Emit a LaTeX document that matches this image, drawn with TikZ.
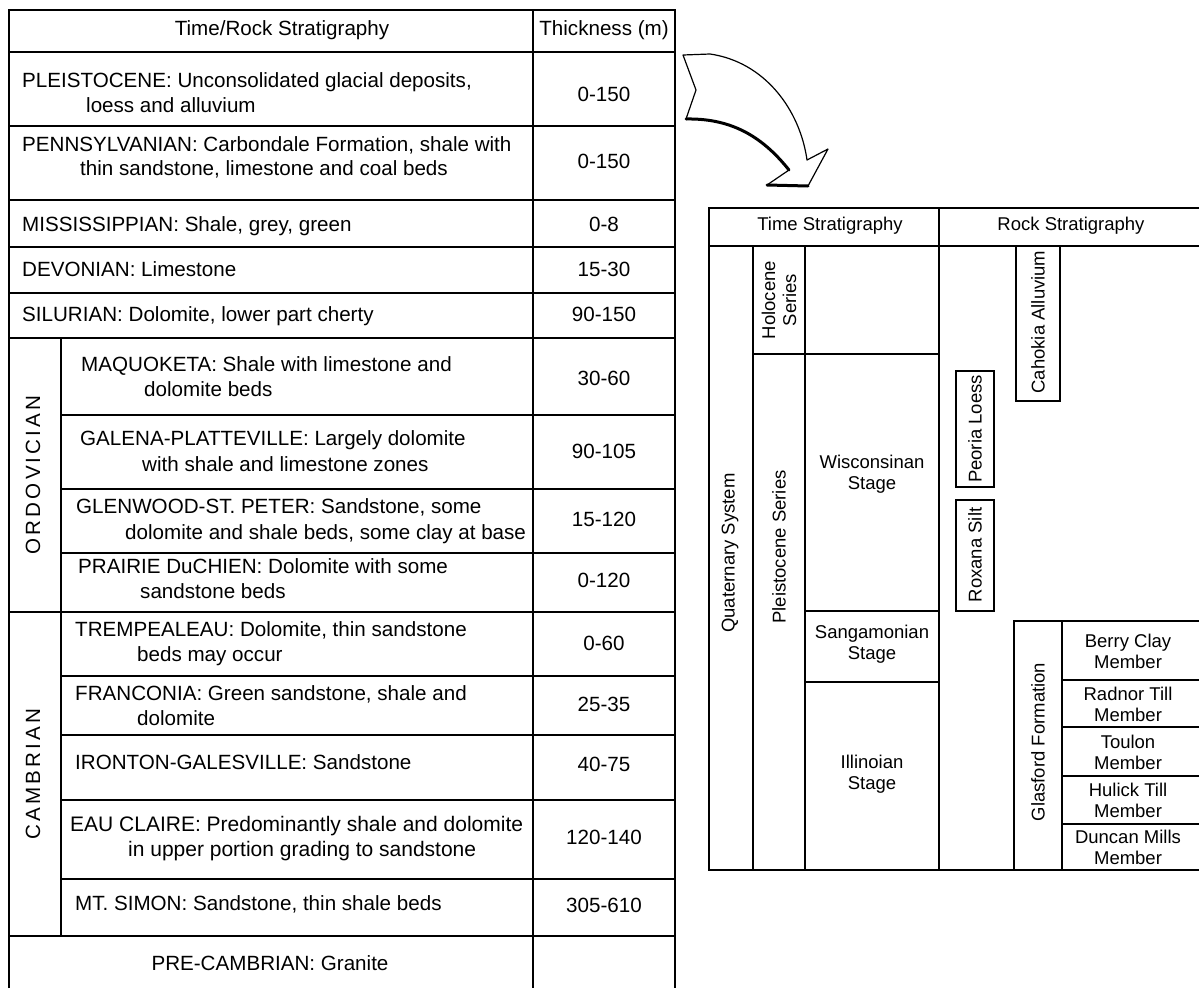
\documentclass[tikz,border=0pt]{standalone}
\usepackage{fontspec}
\setmainfont{Liberation Sans}
\usepackage{tikz}
\newcommand{\lfont}{\fontsize{20.6pt}{25pt}\selectfont}
\newcommand{\rfont}{\fontsize{18.5pt}{21pt}\selectfont}

\begin{document}
\begin{tikzpicture}[x=1pt,y=-1pt,
  rule/.style={line width=1.4pt},
  desc/.style={anchor=west,inner sep=0pt,font=\lfont,text height=14pt,text depth=4pt},
  thk/.style={inner sep=0pt,font=\lfont,text height=14pt,text depth=4pt},
  period/.style={rotate=90,inner sep=0pt,font=\lfont\addfontfeature{LetterSpace=15}},
  cell/.style={align=center,inner sep=0pt,font=\rfont},
  vcell/.style={rotate=90,align=center,inner sep=0pt,font=\rfont}]
\useasboundingbox (0,0) rectangle (1199,988);

% left table
\draw[rule] (9,988) -- (9,10) -- (675,10) -- (675,988);
\draw[rule] (533,10) -- (533,988);
\draw[rule] (61,338) -- (61,936);
\foreach \y in {52,126,200,247,293,338,612,936}
  \draw[rule] (9,\y) -- (675,\y);
\foreach \y in {415,489,553,676,735,800,879}
  \draw[rule] (61,\y) -- (675,\y);

\node[thk] (hdr1) at (282,30) {Time/Rock Stratigraphy};
\node[thk] (hdr2) at (604,30) {Thickness (m)};

\node[desc] (plei1) at (22,82) {PLEISTOCENE: Unconsolidated glacial deposits,};
\node[desc] (plei2) at (86,107) {loess and alluvium};
\node[desc] (penn1) at (22,146) {PENNSYLVANIAN: Carbondale Formation, shale with};
\node[desc] (penn2) at (80,170) {thin sandstone, limestone and coal beds};
\node[desc] (miss) at (22,226) {MISSISSIPPIAN: Shale, grey, green};
\node[desc] (devo) at (22,271) {DEVONIAN: Limestone};
\node[desc] (silu) at (22,316) {SILURIAN: Dolomite, lower part cherty};
\node[desc] (maqu1) at (81,366) {MAQUOKETA: Shale with limestone and};
\node[desc] (maqu2) at (144,391) {dolomite beds};
\node[desc] (gale1) at (80,440) {GALENA-PLATTEVILLE: Largely dolomite};
\node[desc] (gale2) at (142,466) {with shale and limestone zones};
\node[desc] (glen1) at (76,508) {GLENWOOD-ST. PETER: Sandstone, some};
\node[desc] (glen2) at (125,534) {dolomite and shale beds, some clay at base};
\node[desc] (prai1) at (78,568) {PRAIRIE DuCHIEN: Dolomite with some};
\node[desc] (prai2) at (140,593) {sandstone beds};
\node[desc] (trem1) at (75,631) {TREMPEALEAU: Dolomite, thin sandstone};
\node[desc] (trem2) at (137,656) {beds may occur};
\node[desc] (fran1) at (75,695) {FRANCONIA: Green sandstone, shale and};
\node[desc] (fran2) at (137,720) {dolomite};
\node[desc] (iron) at (75,764) {IRONTON-GALESVILLE: Sandstone};
\node[desc,font=\fontsize{21pt}{25pt}\selectfont] (eauc1) at (70,826) {EAU CLAIRE: Predominantly shale and dolomite};
\node[desc,font=\fontsize{21pt}{25pt}\selectfont] (eauc2) at (128,851) {in upper portion grading to sandstone};
\node[desc] (mtsi) at (75,905) {MT. SIMON: Sandstone, thin shale beds};
\node[thk] (prec) at (270,965) {PRE-CAMBRIAN: Granite};

\node[period] (ordo) at (33,475) {ORDOVICIAN};
\node[period] (camb) at (33,774) {CAMBRIAN};

\node[thk] (t1) at (604,96) {0-150};
\node[thk] (t2) at (604,163) {0-150};
\node[thk] (t3) at (604,226) {0-8};
\node[thk] (t4) at (604,271) {15-30};
\node[thk] (t5) at (604,316) {90-150};
\node[thk] (t6) at (604,380) {30-60};
\node[thk] (t7) at (604,453) {90-105};
\node[thk] (t8) at (604,521) {15-120};
\node[thk] (t9) at (604,582) {0-120};
\node[thk] (t10) at (604,645) {0-60};
\node[thk] (t11) at (604,706) {25-35};
\node[thk] (t12) at (604,766) {40-75};
\node[thk] (t13) at (604,839) {120-140};
\node[thk] (t14) at (604,907) {305-610};

% curved arrow
\draw[line width=1.2pt,line join=round,fill=white] (683,55) -- (710,54)
  .. controls (765,62) and (800,110) .. (807,160) -- (828,149) -- (808,186)
  -- (767,185) -- (789,170) .. controls (765,140) and (735,118) .. (686,119)
  -- (696,90) -- cycle;
\draw[line width=3pt,line cap=round] (789,170) .. controls (765,140) and (735,118) .. (686,119);
\draw[line width=3pt,line cap=round] (767,185) -- (808,186);

% right table
\draw[rule] (1199,208) -- (709,208) -- (709,870) -- (1199,870);
\draw[rule] (709,246) -- (1199,246);
\draw[rule] (939,208) -- (939,870);
\draw[rule] (753,246) -- (753,870);
\draw[rule] (805,246) -- (805,870);
\draw[rule] (753,354) -- (939,354);
\draw[rule] (805,611) -- (939,611);
\draw[rule] (805,682) -- (939,682);
\draw[rule] (1016,246) rectangle (1060,401);
\draw[rule] (956,371) rectangle (994,487);
\draw[rule] (956,500) rectangle (994,611);
\draw[rule] (1199,621) -- (1014,621) -- (1014,870);
\draw[rule] (1062,621) -- (1062,870);
\foreach \y in {680,727,776,824}
  \draw[rule] (1062,\y) -- (1199,\y);

\node[cell] (time) at (830,226) {Time Stratigraphy};
\node[cell] (rock) at (1071,226) {Rock Stratigraphy};
\node[vcell] (quat) at (730,553) {Quaternary System};
\node[vcell] (holo) at (779,300) {Holocene\\Series};
\node[vcell] (plse) at (779,547) {Pleistocene Series};
\node[cell] (wisc) at (872,474) {Wisconsinan\\Stage};
\node[cell] (sang) at (872,644) {Sangamonian\\Stage};
\node[cell] (illi) at (872,774) {Illinoian\\Stage};
\node[vcell] (caho) at (1038,322) {Cahokia Alluvium};
\node[vcell] (peor) at (975,429) {Peoria Loess};
\node[vcell] (roxa) at (975,555) {Roxana Silt};
\node[vcell] (glas) at (1038,742) {Glasford Formation};
\node[cell] (berr) at (1128,651) {Berry Clay\\Member};
\node[cell] (radn) at (1128,704) {Radnor Till\\Member};
\node[cell] (toul) at (1128,752) {Toulon\\Member};
\node[cell] (huli) at (1128,800) {Hulick Till\\Member};
\node[cell] (dunc) at (1128,847) {Duncan Mills\\Member};
\end{tikzpicture}
\end{document}
